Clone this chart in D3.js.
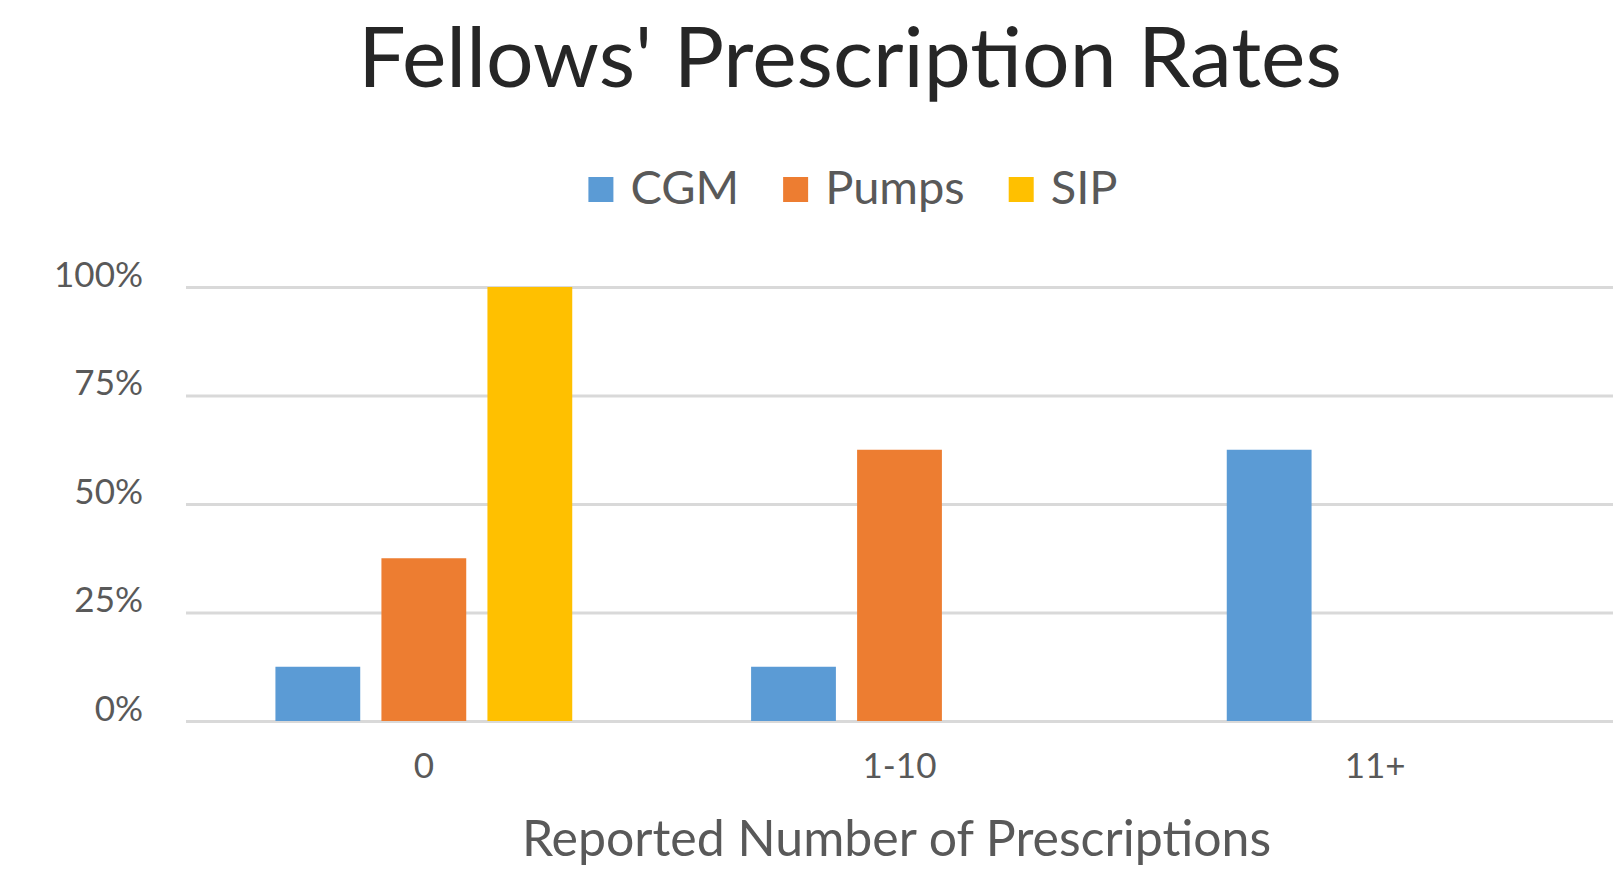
<!DOCTYPE html>
<html>
<head>
<meta charset="utf-8">
<script src="https://cdn.jsdelivr.net/npm/d3@7"></script>
<style>
  html, body { margin: 0; padding: 0; background: #ffffff; }
  svg { display: block; }
  text { font-family: Lato, "Open Sans", "Noto Sans", sans-serif; }
</style>
</head>
<body>
<svg id="chart" width="1624" height="884"></svg>
<script>
// Categories along the x axis
const categories = ["0", "1-10", "11+"];
// Series names and colours
const seriesNames = ["CGM", "Pumps", "SIP"];
const seriesColors = ["#5B9BD5", "#ED7D31", "#FFC000"];
// Share of fellows per category for each series
const cgmValues = [0.125, 0.125, 0.625];
const pumpsValues = [0.375, 0.625, 0];
const sipValues = [1.0, 0, 0];
// Y axis ticks
const yTicks = [0, 0.25, 0.5, 0.75, 1];

const titleText = "Fellows' Prescription Rates";
const xAxisTitle = "Reported Number of Prescriptions";

const seriesValues = [cgmValues, pumpsValues, sipValues];
const rows = categories.map((c, i) => ({
  category: c,
  values: seriesNames.map((s, j) => ({ series: s, value: seriesValues[j][i], color: seriesColors[j] }))
}));

const svg = d3.select("#chart");
const plot = { left: 186, right: 1613, top: 287, bottom: 721 };

const x0 = d3.scaleBand()
  .domain(categories)
  .range([plot.left, plot.right])
  .paddingInner(0.376)
  .paddingOuter(0.188);

const x1 = d3.scaleBand()
  .domain(seriesNames)
  .range([0, x0.bandwidth()])
  .paddingInner(0.2)
  .paddingOuter(0);

const y = d3.scaleLinear().domain([0, 1]).range([plot.bottom, plot.top]);

// Gridlines and y tick labels
const yAxis = d3.axisLeft(y)
  .tickValues(yTicks)
  .tickSize(-(plot.right - plot.left))
  .tickPadding(43)
  .tickFormat(d3.format(".0%"));

const yG = svg.append("g")
  .attr("transform", `translate(${plot.left},0)`)
  .call(yAxis);
yG.select(".domain").remove();
yG.selectAll(".tick line").attr("stroke", "#D9D9D9").attr("stroke-width", 3);
yG.selectAll(".tick text")
  .attr("fill", "#595959")
  .attr("font-size", 35)
  .attr("dy", "-0.02em")
  .style("font-family", "Lato, 'Open Sans', sans-serif");

// Bars
const groups = svg.append("g").selectAll("g")
  .data(rows)
  .join("g")
  .attr("transform", d => `translate(${x0(d.category)},0)`);

groups.selectAll("rect")
  .data(d => d.values)
  .join("rect")
  .attr("x", d => x1(d.series))
  .attr("width", x1.bandwidth())
  .attr("y", d => y(d.value))
  .attr("height", d => y(0) - y(d.value))
  .attr("fill", d => d.color);

// X axis labels
const xAxis = d3.axisBottom(x0).tickSize(0).tickPadding(0);
const xG = svg.append("g")
  .attr("transform", `translate(0,${plot.bottom})`)
  .call(xAxis);
xG.select(".domain").remove();
xG.selectAll(".tick text")
  .attr("fill", "#595959")
  .attr("font-size", 35)
  .attr("y", 57)
  .attr("dy", 0)
  .style("font-family", "Lato, 'Open Sans', sans-serif");

// Title
svg.append("text")
  .attr("x", 850)
  .attr("y", 87)
  .attr("text-anchor", "middle")
  .attr("fill", "#262626")
  .attr("font-size", 84)
  .text(titleText);

// X axis title
svg.append("text")
  .attr("x", (plot.left + plot.right) / 2 - 3)
  .attr("y", 856)
  .attr("text-anchor", "middle")
  .attr("fill", "#595959")
  .attr("font-size", 50)
  .text(xAxisTitle);

// Legend
const legend = svg.append("g");
const sw = 25, gapText = 17, gapItem = 44, legendFont = 47;
let cx = 0;
seriesNames.forEach((s, i) => {
  const g = legend.append("g");
  g.append("rect").attr("x", 0).attr("y", -27).attr("width", sw).attr("height", sw).attr("fill", seriesColors[i]);
  const t = g.append("text")
    .attr("x", sw + gapText)
    .attr("y", 0)
    .attr("fill", "#595959")
    .attr("font-size", legendFont)
    .text(s);
  const w = sw + gapText + t.node().getComputedTextLength();
  g.attr("transform", `translate(${cx},0)`);
  cx += w + gapItem;
});
const legendWidth = cx - gapItem;
legend.attr("transform", `translate(${853 - legendWidth / 2},204)`);
</script>
</body>
</html>
